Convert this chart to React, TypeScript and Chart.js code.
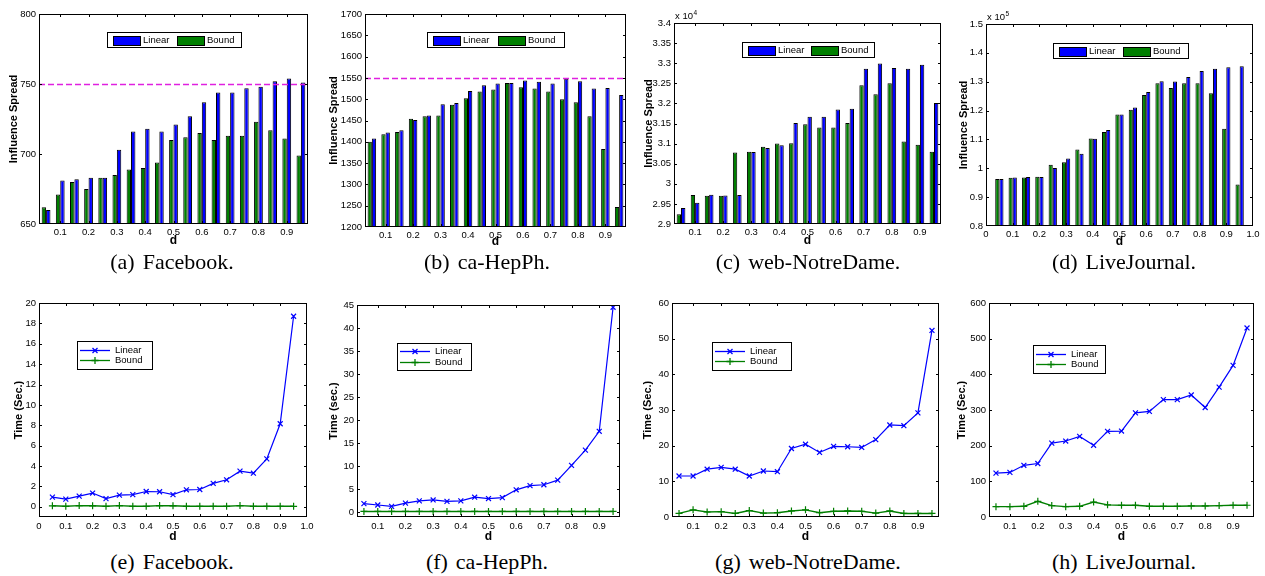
import React, { useEffect, useRef } from 'react';
import { Chart, registerables } from 'chart.js';

Chart.register(...registerables);

const FONT = '"Liberation Sans", Arial, Helvetica, sans-serif';
const SERIF = '"Liberation Serif", "Times New Roman", serif';
const BLUE = '#0000ff';
const GREEN = '#007f00';
const MAGENTA = '#e020e0';

const seriesNames = ['Linear', 'Bound'];

const dValues = [0.05, 0.1, 0.15, 0.2, 0.25, 0.3, 0.35, 0.4, 0.45, 0.5, 0.55, 0.6, 0.65, 0.7, 0.75, 0.8, 0.85, 0.9, 0.95];

const xTicksInner = [0.1, 0.2, 0.3, 0.4, 0.5, 0.6, 0.7, 0.8, 0.9];
const xTickLabelsInner = ['0.1', '0.2', '0.3', '0.4', '0.5', '0.6', '0.7', '0.8', '0.9'];
const xTicksFull = [0, 0.1, 0.2, 0.3, 0.4, 0.5, 0.6, 0.7, 0.8, 0.9, 1.0];
const xTickLabelsFull = ['0', '0.1', '0.2', '0.3', '0.4', '0.5', '0.6', '0.7', '0.8', '0.9', '1.0'];

// (a) Facebook influence spread
const fbSpreadLinear = [660, 681, 682, 683, 683, 703, 716, 718, 716, 721, 727, 737, 744, 744, 747, 748, 752, 754, 751];
const fbSpreadBound = [662, 671, 680, 675, 683, 685, 689, 690, 694, 710, 712, 715, 710, 713, 713, 723, 717, 711, 699];
const fbSpreadOptimum = 750;
const fbSpreadTicks = [650, 700, 750, 800];
const fbSpreadTickLabels = ['650', '700', '750', '800'];

// (b) ca-HepPh influence spread
const hepSpreadLinear = [1408, 1422, 1427, 1451, 1462, 1488, 1491, 1519, 1533, 1537, 1538, 1544, 1541, 1537, 1548, 1542, 1525, 1526, 1510];
const hepSpreadBound = [1400, 1418, 1423, 1454, 1460, 1462, 1487, 1502, 1518, 1523, 1538, 1528, 1525, 1518, 1500, 1493, 1460, 1383, 1247];
const hepSpreadOptimum = 1550;
const hepSpreadTicks = [1200, 1250, 1300, 1350, 1400, 1450, 1500, 1550, 1600, 1650, 1700];
const hepSpreadTickLabels = ['1200', '1250', '1300', '1350', '1400', '1450', '1500', '1550', '1600', '1650', '1700'];

// (c) web-NotreDame influence spread
const ndSpreadLinear = [29400, 29530, 29730, 29710, 29720, 30790, 30890, 30960, 31510, 31670, 31670, 31850, 31870, 32860, 32990, 32880, 32860, 32960, 32010];
const ndSpreadBound = [29240, 29720, 29700, 29700, 30780, 30800, 30920, 31000, 31010, 31480, 31400, 31400, 31510, 32450, 32230, 32500, 31050, 30970, 30800];
const ndSpreadTicks = [29000, 29500, 30000, 30500, 31000, 31500, 32000, 32500, 33000, 33500, 34000];
const ndSpreadTickLabels = ['2.9', '2.95', '3', '3.05', '3.1', '3.15', '3.2', '3.25', '3.3', '3.35', '3.4'];

// (d) LiveJournal influence spread
const ljSpreadLinear = [96300, 96800, 97000, 97000, 100100, 103400, 105000, 110200, 113300, 118600, 121100, 126400, 130200, 130100, 131600, 133700, 134500, 135000, 135400];
const ljSpreadBound = [96300, 96700, 96800, 97100, 101200, 102100, 106500, 110300, 112600, 118600, 120300, 125400, 129500, 127800, 129500, 129500, 126000, 113700, 94400];
const ljSpreadTicks = [80000, 90000, 100000, 110000, 120000, 130000, 140000, 150000];
const ljSpreadTickLabels = ['0.8', '0.9', '1', '1.1', '1.2', '1.3', '1.4', '1.5'];

// (e) Facebook time
const fbTimeLinear = [0.95, 0.75, 1.05, 1.35, 0.8, 1.15, 1.2, 1.5, 1.48, 1.2, 1.67, 1.7, 2.3, 2.65, 3.5, 3.3, 4.7, 8.15, 18.7];
const fbTimeBound = [0.1, 0.05, 0.12, 0.1, 0.05, 0.12, 0.05, 0.05, 0.12, 0.1, 0.05, 0.05, 0.05, 0.05, 0.12, 0.05, 0.05, 0.05, 0.05];
const fbTimeTicks = [0, 2, 4, 6, 8, 10, 12, 14, 16, 18, 20];
const fbTimeTickLabels = ['0', '2', '4', '6', '8', '10', '12', '14', '16', '18', '20'];

// (f) ca-HepPh time
const hepTimeLinear = [1.9, 1.6, 1.3, 2.0, 2.5, 2.7, 2.4, 2.5, 3.3, 3.0, 3.2, 4.9, 5.8, 6.0, 7.0, 10.2, 13.5, 17.6, 44.5];
const hepTimeBound = [0.2, 0.2, 0.2, 0.2, 0.2, 0.2, 0.2, 0.2, 0.2, 0.2, 0.2, 0.2, 0.2, 0.2, 0.2, 0.2, 0.2, 0.2, 0.2];
const hepTimeTicks = [0, 5, 10, 15, 20, 25, 30, 35, 40, 45];
const hepTimeTickLabels = ['0', '5', '10', '15', '20', '25', '30', '35', '40', '45'];

// (g) web-NotreDame time
const ndTimeLinear = [11.5, 11.5, 13.4, 13.9, 13.4, 11.5, 12.9, 12.7, 19.2, 20.4, 18.1, 19.8, 19.7, 19.5, 21.7, 25.8, 25.6, 29.2, 52.3];
const ndTimeBound = [1.0, 2.0, 1.4, 1.5, 1.0, 1.8, 1.1, 1.2, 1.7, 2.0, 1.2, 1.6, 1.7, 1.6, 1.1, 1.7, 1.0, 1.0, 1.0];
const ndTimeTicks = [0, 10, 20, 30, 40, 50, 60];
const ndTimeTickLabels = ['0', '10', '20', '30', '40', '50', '60'];

// (h) LiveJournal time
const ljTimeLinear = [123, 125, 145, 150, 207, 213, 226, 201, 240, 241, 292, 296, 329, 329, 342, 307, 364, 425, 530];
const ljTimeBound = [29, 29, 30, 44, 32, 29, 30, 42, 34, 33, 33, 30, 30, 30, 31, 31, 32, 33, 33];
const ljTimeTicks = [0, 100, 200, 300, 400, 500, 600];
const ljTimeTickLabels = ['0', '100', '200', '300', '400', '500', '600'];

type Legend = { dx: number; dy: number; w: number; h: number };
type PanelSpec = {
  id: string;
  kind: 'bar' | 'line';
  rect: [number, number, number, number];
  xMin: number; xMax: number; xTicks: number[]; xTickLabels: string[];
  yMin: number; yMax: number; yTicks: number[]; yTickLabels: string[];
  yTitle: string; yTitleOffset: number;
  linear: number[]; bound: number[];
  refLine?: number;
  exponent?: string;
  legend: Legend;
  xLabelGap: number; xTitleGap: number;
  captionTag: string; captionText: string; captionX: number; captionY: number;
};

const panels: PanelSpec[] = [
  { id: 'a', kind: 'bar', rect: [39, 14, 308, 224], xMin: 0.025, xMax: 0.975, xTicks: xTicksInner, xTickLabels: xTickLabelsInner,
    yMin: 650, yMax: 800, yTicks: fbSpreadTicks, yTickLabels: fbSpreadTickLabels, yTitle: 'Influence Spread', yTitleOffset: 25,
    linear: fbSpreadLinear, bound: fbSpreadBound, refLine: fbSpreadOptimum, legend: { dx: 68, dy: 18, w: 134, h: 15 },
    xLabelGap: 8, xTitleGap: 17, captionTag: '(a)', captionText: 'Facebook.', captionX: 172, captionY: 262 },
  { id: 'b', kind: 'bar', rect: [365, 14, 626, 227], xMin: 0.025, xMax: 0.975, xTicks: xTicksInner, xTickLabels: xTickLabelsInner,
    yMin: 1200, yMax: 1700, yTicks: hepSpreadTicks, yTickLabels: hepSpreadTickLabels, yTitle: 'Influence Spread', yTitleOffset: 31,
    linear: hepSpreadLinear, bound: hepSpreadBound, refLine: hepSpreadOptimum, legend: { dx: 62, dy: 18, w: 137, h: 15 },
    xLabelGap: 8, xTitleGap: 15, captionTag: '(b)', captionText: 'ca-HepPh.', captionX: 487, captionY: 262 },
  { id: 'c', kind: 'bar', rect: [674, 23, 941, 224], xMin: 0.025, xMax: 0.975, xTicks: xTicksInner, xTickLabels: xTickLabelsInner,
    yMin: 29000, yMax: 34000, yTicks: ndSpreadTicks, yTickLabels: ndSpreadTickLabels, yTitle: 'Influence Spread', yTitleOffset: 25,
    linear: ndSpreadLinear, bound: ndSpreadBound, exponent: '4', legend: { dx: 68, dy: 19, w: 132, h: 15 },
    xLabelGap: 8, xTitleGap: 17, captionTag: '(c)', captionText: 'web-NotreDame.', captionX: 808, captionY: 262 },
  { id: 'd', kind: 'bar', rect: [986, 24, 1253, 226], xMin: 0, xMax: 1, xTicks: xTicksFull, xTickLabels: xTickLabelsFull,
    yMin: 80000, yMax: 150000, yTicks: ljSpreadTicks, yTickLabels: ljSpreadTickLabels, yTitle: 'Influence Spread', yTitleOffset: 22,
    linear: ljSpreadLinear, bound: ljSpreadBound, exponent: '5', legend: { dx: 67, dy: 19, w: 135, h: 15 },
    xLabelGap: 8, xTitleGap: 16, captionTag: '(d)', captionText: 'LiveJournal.', captionX: 1124, captionY: 262 },
  { id: 'e', kind: 'line', rect: [39, 303, 307, 517], xMin: 0, xMax: 1, xTicks: xTicksFull, xTickLabels: xTickLabelsFull,
    yMin: -1, yMax: 20, yTicks: fbTimeTicks, yTickLabels: fbTimeTickLabels, yTitle: 'Time (Sec.)', yTitleOffset: 20,
    linear: fbTimeLinear, bound: fbTimeBound, legend: { dx: 38, dy: 38, w: 75, h: 28 },
    xLabelGap: 9, xTitleGap: 20, captionTag: '(e)', captionText: 'Facebook.', captionX: 172, captionY: 562 },
  { id: 'f', kind: 'line', rect: [357, 305, 620, 517], xMin: 0.025, xMax: 0.975, xTicks: xTicksInner, xTickLabels: xTickLabelsInner,
    yMin: -1, yMax: 45, yTicks: hepTimeTicks, yTickLabels: hepTimeTickLabels, yTitle: 'Time (sec.)', yTitleOffset: 23,
    linear: hepTimeLinear, bound: hepTimeBound, legend: { dx: 40, dy: 38, w: 74, h: 27 },
    xLabelGap: 9, xTitleGap: 20, captionTag: '(f)', captionText: 'ca-HepPh.', captionX: 487, captionY: 562 },
  { id: 'g', kind: 'line', rect: [672, 303, 939, 517], xMin: 0.025, xMax: 0.975, xTicks: xTicksInner, xTickLabels: xTickLabelsInner,
    yMin: 0, yMax: 60, yTicks: ndTimeTicks, yTickLabels: ndTimeTickLabels, yTitle: 'Time (Sec.)', yTitleOffset: 24,
    linear: ndTimeLinear, bound: ndTimeBound, legend: { dx: 40, dy: 39, w: 79, h: 28 },
    xLabelGap: 9, xTitleGap: 20, captionTag: '(g)', captionText: 'web-NotreDame.', captionX: 808, captionY: 562 },
  { id: 'h', kind: 'line', rect: [989, 303, 1254, 517], xMin: 0.025, xMax: 0.975, xTicks: xTicksInner, xTickLabels: xTickLabelsInner,
    yMin: 0, yMax: 600, yTicks: ljTimeTicks, yTickLabels: ljTimeTickLabels, yTitle: 'Time (Sec.)', yTitleOffset: 27,
    linear: ljTimeLinear, bound: ljTimeBound, legend: { dx: 44, dy: 42, w: 72, h: 28 },
    xLabelGap: 9, xTitleGap: 20, captionTag: '(h)', captionText: 'LiveJournal.', captionX: 1124, captionY: 562 },
];

const ML = 45;
const MT = 22;
const MR = 10;
const MB = 32;
const TICK_SIZE = 9.5;
const TITLE_SIZE = 11;
const XTITLE_SIZE = 12;

function drawMarker(ctx: CanvasRenderingContext2D, kind: 'x' | '+', cx: number, cy: number) {
  ctx.beginPath();
  if (kind === 'x') {
    const d = 2.5;
    ctx.moveTo(cx - d, cy - d); ctx.lineTo(cx + d, cy + d);
    ctx.moveTo(cx - d, cy + d); ctx.lineTo(cx + d, cy - d);
  } else {
    const d = 3.5;
    ctx.moveTo(cx - d, cy); ctx.lineTo(cx + d, cy);
    ctx.moveTo(cx, cy - d); ctx.lineTo(cx, cy + d);
  }
  ctx.stroke();
}

function makeDecor(spec: PanelSpec) {
  return {
    id: 'matlabDecor' + spec.id,
    afterDatasetsDraw(chart: any) {
      const { ctx, chartArea } = chart;
      const { left, top, right, bottom } = chartArea;
      const xs = chart.scales.x;
      const ys = chart.scales.y;
      ctx.save();
      if (spec.refLine !== undefined) {
        const py = Math.round(ys.getPixelForValue(spec.refLine)) + 0.5;
        ctx.strokeStyle = MAGENTA;
        ctx.lineWidth = 1.5;
        ctx.setLineDash([6, 3]);
        ctx.beginPath();
        ctx.moveTo(left, py);
        ctx.lineTo(right, py);
        ctx.stroke();
        ctx.setLineDash([]);
      }
      ctx.strokeStyle = '#000';
      ctx.lineWidth = 1;
      const TL = 3;
      ctx.beginPath();
      for (const t of xs.ticks) {
        const px = Math.round(xs.getPixelForValue(t.value)) + 0.5;
        if (px <= left + 1 || px >= right - 1) continue;
        ctx.moveTo(px, bottom); ctx.lineTo(px, bottom - TL);
        ctx.moveTo(px, top); ctx.lineTo(px, top + TL);
      }
      for (const t of ys.ticks) {
        const py = Math.round(ys.getPixelForValue(t.value)) + 0.5;
        if (py <= top + 1 || py >= bottom - 1) continue;
        ctx.moveTo(left, py); ctx.lineTo(left + TL, py);
        ctx.moveTo(right, py); ctx.lineTo(right - TL, py);
      }
      ctx.stroke();
      ctx.strokeRect(left + 0.5, top + 0.5, right - left - 1, bottom - top - 1);

      if (spec.exponent) {
        ctx.fillStyle = '#000';
        ctx.textAlign = 'left';
        ctx.textBaseline = 'alphabetic';
        ctx.font = `${TICK_SIZE}px ${FONT}`;
        const base = 'x 10';
        const bx = left + 1;
        const by = top - 4;
        ctx.fillText(base, bx, by);
        const w = ctx.measureText(base).width;
        ctx.font = `6.5px ${FONT}`;
        ctx.fillText(spec.exponent, bx + w + 0.5, by - 4);
      }
      ctx.restore();
    },
    afterDraw(chart: any) {
      const { ctx, chartArea } = chart;
      const lg = spec.legend;
      const bx = Math.round(chartArea.left + lg.dx);
      const by = Math.round(chartArea.top + lg.dy);
      ctx.save();
      ctx.fillStyle = '#fff';
      ctx.fillRect(bx, by, lg.w, lg.h);
      ctx.strokeStyle = '#000';
      ctx.lineWidth = 1;
      ctx.strokeRect(bx + 0.5, by + 0.5, lg.w, lg.h);
      ctx.font = `${TICK_SIZE}px ${FONT}`;
      ctx.textAlign = 'left';
      ctx.textBaseline = 'middle';
      const colors = [BLUE, GREEN];
      if (spec.kind === 'bar') {
        const cy = by + lg.h / 2 + 0.5;
        const starts = [6, Math.round(lg.w * 0.52)];
        seriesNames.forEach((name, i) => {
          const sx = bx + starts[i];
          ctx.fillStyle = colors[i];
          ctx.fillRect(sx, Math.round(cy - 4.5), 27, 9);
          ctx.strokeStyle = '#000';
          ctx.strokeRect(sx + 0.5, Math.round(cy - 4.5) + 0.5, 27, 9);
          ctx.fillStyle = '#000';
          ctx.fillText(name, sx + 30, cy);
        });
      } else {
        const rows = [0.31, 0.69];
        const markers: ('x' | '+')[] = ['x', '+'];
        seriesNames.forEach((name, i) => {
          const cy = Math.round(by + lg.h * rows[i]) + 0.5;
          ctx.strokeStyle = colors[i];
          ctx.lineWidth = 1.3;
          ctx.beginPath();
          ctx.moveTo(bx + 3, cy);
          ctx.lineTo(bx + 33, cy);
          ctx.stroke();
          drawMarker(ctx, markers[i], bx + 18, cy);
          ctx.fillStyle = '#000';
          ctx.fillText(name, bx + 38, cy);
        });
      }
      ctx.restore();
    },
  };
}

function buildConfig(spec: PanelSpec): any {
  const toPts = (arr: number[]) => arr.map((v, i) => ({ x: dValues[i], y: v }));
  const xTitleLh = XTITLE_SIZE * 1.2;
  const yTitleLh = TITLE_SIZE * 1.2;
  const datasets = spec.kind === 'bar'
    ? [
        { label: seriesNames[1], data: toPts(spec.bound), backgroundColor: GREEN, borderColor: '#000', borderWidth: 1,
          borderSkipped: false, barPercentage: 1.0, categoryPercentage: 0.62 },
        { label: seriesNames[0], data: toPts(spec.linear), backgroundColor: BLUE, borderColor: '#000', borderWidth: 1,
          borderSkipped: false, barPercentage: 1.0, categoryPercentage: 0.62 },
      ]
    : [
        { label: seriesNames[1], data: toPts(spec.bound), borderColor: GREEN, backgroundColor: GREEN, borderWidth: 1.4,
          pointStyle: 'cross', pointRadius: 3.5, pointBorderWidth: 1.2, pointBorderColor: GREEN, tension: 0, fill: false },
        { label: seriesNames[0], data: toPts(spec.linear), borderColor: BLUE, backgroundColor: BLUE, borderWidth: 1.2,
          pointStyle: 'crossRot', pointRadius: 3.5, pointBorderWidth: 1.2, pointBorderColor: BLUE, tension: 0, fill: false },
      ];
  return {
    type: spec.kind,
    data: { datasets },
    options: {
      responsive: false,
      maintainAspectRatio: false,
      animation: false,
      devicePixelRatio: 1,
      events: [],
      layout: { padding: { left: 0, top: MT, right: MR, bottom: 0 } },
      plugins: { legend: { display: false }, tooltip: { enabled: false }, title: { display: false } },
      scales: {
        x: {
          type: 'linear',
          min: spec.xMin,
          max: spec.xMax,
          offset: false,
          afterBuildTicks: (s: any) => { s.ticks = spec.xTicks.map((v) => ({ value: v })); },
          afterFit: (s: any) => { s.height = MB; },
          ticks: {
            callback: (_v: any, i: number) => spec.xTickLabels[i],
            font: { size: TICK_SIZE, family: FONT },
            color: '#000',
            padding: spec.xLabelGap - TICK_SIZE * 0.6,
            maxRotation: 0,
            minRotation: 0,
            autoSkip: false,
          },
          grid: { display: false, drawTicks: false },
          border: { display: false },
          title: {
            display: true,
            text: 'd',
            color: '#000',
            font: { size: XTITLE_SIZE, weight: 'bold', family: FONT },
            padding: { top: 0, bottom: MB - spec.xTitleGap - xTitleLh / 2 },
          },
        },
        y: {
          type: 'linear',
          min: spec.yMin,
          max: spec.yMax,
          afterBuildTicks: (s: any) => { s.ticks = spec.yTicks.map((v) => ({ value: v })); },
          afterFit: (s: any) => { s.width = ML; },
          ticks: {
            callback: (_v: any, i: number) => spec.yTickLabels[i],
            font: { size: TICK_SIZE, family: FONT },
            color: '#000',
            padding: 3,
            autoSkip: false,
          },
          grid: { display: false, drawTicks: false },
          border: { display: false },
          title: {
            display: true,
            text: spec.yTitle,
            color: '#000',
            font: { size: TITLE_SIZE, weight: 'bold', family: FONT },
            padding: { top: ML - spec.yTitleOffset - yTitleLh / 2, bottom: 0 },
          },
        },
      },
    },
    plugins: [makeDecor(spec)],
  };
}

function Panel({ spec }: { spec: PanelSpec }) {
  const ref = useRef<HTMLCanvasElement | null>(null);
  const [L, T, R, B] = spec.rect;
  const cw = R - L + ML + MR;
  const ch = B - T + MT + MB;
  useEffect(() => {
    if (!ref.current) return;
    const chart = new Chart(ref.current, buildConfig(spec));
    return () => chart.destroy();
  }, [spec]);
  return (
    <canvas
      ref={ref}
      width={cw}
      height={ch}
      style={{ position: 'absolute', left: L - ML, top: T - MT, width: cw, height: ch }}
    />
  );
}

function Caption({ spec }: { spec: PanelSpec }) {
  return (
    <div
      style={{
        position: 'absolute',
        left: spec.captionX - 150,
        top: spec.captionY - 13,
        width: 300,
        textAlign: 'center',
        fontFamily: SERIF,
        fontSize: 22,
        lineHeight: '26px',
        whiteSpace: 'nowrap',
        color: '#000',
      }}
    >
      <span>{spec.captionTag}</span>
      <span style={{ marginLeft: 8 }}>{spec.captionText}</span>
    </div>
  );
}

export default function App() {
  return (
    <div style={{ position: 'absolute', left: 0, top: 0, width: 1265, height: 576, overflow: 'hidden', background: '#fff' }}>
      {panels.map((p) => (
        <Panel key={p.id} spec={p} />
      ))}
      {panels.map((p) => (
        <Caption key={'c' + p.id} spec={p} />
      ))}
    </div>
  );
}
